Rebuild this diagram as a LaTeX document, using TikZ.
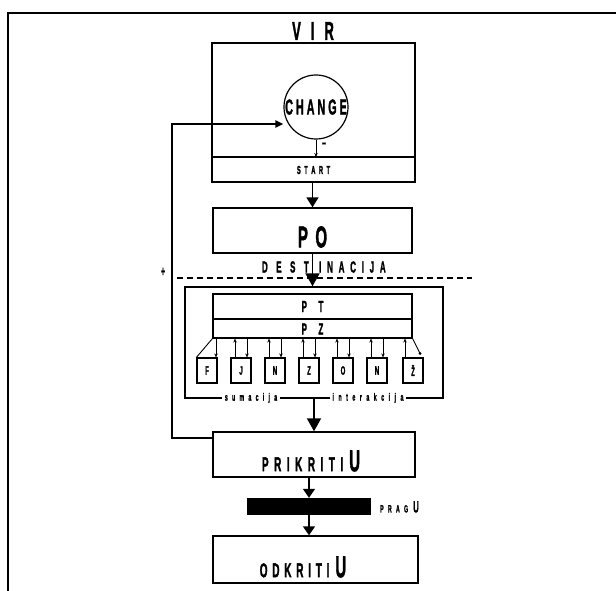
\documentclass[tikz,border=0pt]{standalone}
\usepackage{fontspec}
\usepackage{graphicx}
\newfontfamily\hv[FakeBold=2.2]{Liberation Sans Bold}
\usetikzlibrary{arrows.meta,calc}
\makeatletter
\newcommand\spacedtxt[2]{\def\sp@k{#1}\@tfor\sp@c:=#2\do{\sp@c\kern\sp@k pt}\kern-\sp@k pt\relax}
\makeatother
\newcommand\T[3]{\scalebox{0.5}[1]{\fontsize{#1}{#1}\selectfont\spacedtxt{#2}{#3}}}
\begin{document}
\begin{tikzpicture}[x=1pt,y=-1pt,
  box/.style={draw,line width=1.4pt,inner sep=0pt},
  sbox/.style={draw,line width=1.2pt,inner sep=0pt,minimum width=20pt,minimum height=25pt,font=\hv},
  txt/.style={font=\hv,inner sep=0pt},
  bigarr/.style={line width=1.9pt,-{Triangle[length=13pt,width=14pt]}},
  midarr/.style={line width=1.7pt,-{Triangle[length=10pt,width=12pt]}},
  sarr/.style={line width=0.9pt,-{Stealth[length=4pt,width=3.5pt]}},
  thin/.style={line width=0.9pt}]
\useasboundingbox (0,0) rectangle (616,591);
\fill[white] (0,0) rectangle (616,591);
% outer frame
\draw[line width=2pt] (8,591) -- (8,13) -- (616,13);
% VIR
\node[txt] (virt) at (313,31) {\T{26}{20}{VIR}};
\node[box,minimum width=203pt,minimum height=139pt] (vir) at (313.5,112.5) {};
\coordinate (sl) at (313,157);
\draw[line width=1.3pt] (vir.west |- sl) -- (vir.east |- sl);
\node[txt] (start) at (313.5,170) {\T{11.5}{7}{START}};
\node[draw,circle,line width=1.2pt,minimum size=64pt,inner sep=0pt,font=\hv] (chg) at (316,107) {\T{21.5}{6}{CHANGE}};
\draw[sarr] (chg.south) -- (chg.south |- sl);
\node[txt] (minus) at (324,145) {\T{14}{0}{–}};
% PO
\node[box,minimum width=199pt,minimum height=45pt] (po) at (312.5,230.5) {};
\node[txt] (pot) at (312.5,237) {\T{30}{15}{PO}};
\draw[midarr] (vir.south -| po.north) -- (po.north);
% destinacija
\draw[dashed,dash pattern=on 6pt off 4pt,line width=1.2pt] (177,278) -- (472,278);
\node[box,minimum width=258pt,minimum height=111pt] (big) at (314,342.5) {};
\draw[bigarr] (po.south) -- (po.south |- big.north);
\node[txt,anchor=east] (dest) at (309,267) {\T{16}{17}{DEST}};
\node[txt,anchor=west] (inac) at (319,267) {\T{16}{11.5}{INACIJA}};
% PT PZ
\node[box,line width=1.2pt,minimum width=199pt,minimum height=44pt] (ptz) at (312.5,316) {};
\draw[line width=1.2pt] (ptz.west |- 0,319) -- (ptz.east |- 0,319);
\node[txt] (pt) at (312.5,306.5) {\T{16}{23}{PT}};
\node[txt] (pz) at (312.5,329) {\T{16}{23}{PZ}};
% small boxes
\node[sbox] (b1) at (207,370.5) {\T{12}{0}{F}};
\node[sbox] (b2) at (241,370.5) {\T{12}{0}{J}};
\node[sbox] (b3) at (275,370.5) {\T{12}{0}{N}};
\node[sbox] (b4) at (309,370.5) {\T{12}{0}{Z}};
\node[sbox] (b5) at (343,370.5) {\T{12}{0}{O}};
\node[sbox] (b6) at (377,370.5) {\T{12}{0}{N}};
\node[sbox] (b7) at (413,370.5) {\T{12}{0}{Ž}};
% connections
\draw[thin] (ptz.south west) -- (b1.north west);
\draw[sarr] ($(b1.north)+(9,0)$) coordinate (d1) ++(0,0) (d1 |- ptz.south) -- (d1);
\foreach \i in {2,...,6}{
  \draw[sarr] ($(b\i.north)+(-6,0)$) coordinate (u\i) -- (u\i |- ptz.south);
  \draw[sarr] ($(b\i.north)+(6,0)$) coordinate (d\i) ++(0,0) (d\i |- ptz.south) -- (d\i);
}
\draw[sarr] ($(b7.north)+(-8,0)$) coordinate (u7) -- (u7 |- ptz.south);
\coordinate (dot7) at ($(b7.north)+(7,-4)$);
\draw[thin] (ptz.south east) -- (dot7);
\fill (dot7) circle (1.6pt);
% bottom labels
\node[txt,fill=white,inner xsep=3pt] (sum) at (251,398) {\T{10.5}{8.5}{sumacija}};
\node[txt,fill=white,inner xsep=3pt] (int) at (368,398) {\T{10.5}{9}{interakcija}};
% PRIKRITI
\node[box,minimum width=202pt,minimum height=45pt] (pri) at (314,454.5) {};
\node[txt] (prit) at (311,461) {\T{20}{11}{PRIKRITI}\hspace{6pt}\T{30}{0}{U}};
\draw[bigarr] (big.south) -- (big.south |- pri.north);
% feedback
\coordinate (fb1) at (172,438);
\coordinate (fb2) at (172,124);
\draw[line width=2.3pt,-{Triangle[length=8pt,width=7pt]}] (pri.west |- fb1) -- (fb1) -- (fb2) -- (fb2 -| chg.west);
\node[txt] (plus) at (163,272) {\T{14}{0}{+}};
% PRAG
\node[fill=black,inner sep=0pt,minimum width=124pt,minimum height=17pt] (bar) at (309,506.5) {};
\node[txt,anchor=west] (prag) at (380,507) {\T{10.5}{8.5}{PRAG}\hspace{5pt}\T{16}{0}{U}};
\draw[midarr,-{Triangle[length=9pt,width=12pt]}] (pri.south -| bar.north) -- (bar.north);
% ODKRITI
\node[box,minimum width=205pt,minimum height=47pt] (odk) at (315.5,559.5) {};
\node[txt] (odkt) at (303,567) {\T{20}{9.5}{ODKRITI}\hspace{6pt}\T{30}{0}{U}};
\draw[midarr,-{Triangle[length=9pt,width=12pt]}] (bar.south) -- (bar.south |- odk.north);
\end{tikzpicture}
\end{document}
